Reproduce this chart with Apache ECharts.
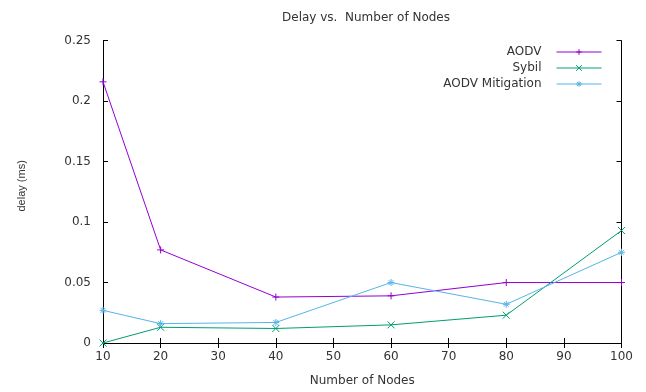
<!DOCTYPE html>
<html>
<head>
<meta charset="utf-8">
<script src="https://cdn.jsdelivr.net/npm/echarts@6/dist/echarts.min.js"></script>
<style>html,body{margin:0;padding:0;background:#fff;}#c{width:646px;height:392px;}</style>
</head>
<body>
<div id="c"></div>
<script>
const nodes = [10, 20, 40, 60, 80, 100];
const aodv = [0.216, 0.077, 0.038, 0.039, 0.05, 0.05];
const sybil = [0, 0.013, 0.012, 0.015, 0.023, 0.093];
const mitigation = [0.027, 0.016, 0.017, 0.05, 0.032, 0.075];
const seriesNames = ['AODV', 'Sybil', 'AODV Mitigation'];
const titleText = 'Delay vs.  Number of Nodes';
const xName = 'Number of Nodes';
const yName = 'delay (ms)';

const colors = ['#9400d3', '#009e73', '#56b4e9'];
const symbols = [
  'path://M5,0 L5,10 M0,5 L10,5',
  'path://M0,0 L10,10 M0,10 L10,0',
  'path://M5,0 L5,10 M0,5 L10,5 M1.5,1.5 L8.5,8.5 M1.5,8.5 L8.5,1.5'
];
const FONT = 'DejaVu Sans';
const txt = '#333';

function pairs(arr) { return nodes.map((n, i) => [n, arr[i]]); }
const allData = [aodv, sybil, mitigation];

const series = allData.map((d, i) => ({
  name: seriesNames[i],
  type: 'line',
  data: pairs(d),
  symbol: symbols[i],
  symbolSize: 7,
  clip: false,
  color: colors[i],
  lineStyle: { color: colors[i], width: 1 },
  itemStyle: { color: colors[i], borderColor: colors[i], borderWidth: 1 },
  emphasis: { disabled: true },
  z: 2 + i
}));

const legends = seriesNames.map((n, i) => ({
  data: [n],
  right: 44,
  top: 45 + i * 16,
  orient: 'vertical',
  align: 'right',
  itemWidth: 45,
  itemHeight: 7,
  padding: 0,
  selectedMode: false,
  lineStyle: { width: 1 },
  itemStyle: { borderWidth: 1 },
  textStyle: { fontFamily: FONT, fontSize: 12, color: txt, lineHeight: 14, padding: [0, 10, 0, 0] }
}));

const tickStyle = { inside: true, length: 5, lineStyle: { color: '#000', width: 1 } };
const lineStyleAx = { lineStyle: { color: '#000', width: 1 } };

const option = {
  animation: false,
  backgroundColor: '#fff',
  title: {
    text: titleText, left: 361, textAlign: 'center', top: 7,
    textStyle: { fontFamily: FONT, fontSize: 12, fontWeight: 'normal', color: txt }
  },
  legend: legends,
  grid: { left: 103, right: 24.5, top: 40.7, bottom: 47, containLabel: false },
  xAxis: [
    {
      type: 'value', min: 10, max: 100, interval: 10, position: 'bottom',
      name: xName, nameLocation: 'middle', nameGap: 32,
      nameTextStyle: { fontFamily: FONT, fontSize: 12, color: txt },
      axisLine: lineStyleAx, axisTick: tickStyle,
      axisLabel: { fontFamily: FONT, fontSize: 12, color: txt, margin: 8 },
      splitLine: { show: false }
    },
    {
      type: 'value', min: 10, max: 100, interval: 10, position: 'top',
      axisLine: lineStyleAx, axisTick: tickStyle,
      axisLabel: { show: false }, splitLine: { show: false }
    }
  ],
  yAxis: [
    {
      type: 'value', min: 0, max: 0.25, interval: 0.05, position: 'left',
      name: yName, nameLocation: 'middle', nameGap: 76, nameRotate: 90,
      nameTextStyle: { fontFamily: 'Liberation Sans', fontSize: 11, color: txt, padding: [0, 0, 0, 12] },
      axisLine: { show: true, lineStyle: { color: '#000', width: 1 } }, axisTick: tickStyle,
      axisLabel: { fontFamily: FONT, fontSize: 12, color: txt, margin: 12,
        formatter: v => String(+v.toFixed(2)) },
      splitLine: { show: false }
    },
    {
      type: 'value', min: 0, max: 0.25, interval: 0.05, position: 'right',
      axisLine: { show: true, lineStyle: { color: '#000', width: 1 } }, axisTick: tickStyle,
      axisLabel: { show: false }, splitLine: { show: false }
    }
  ],
  series: series
};

const chart = echarts.init(document.getElementById('c'), null, { renderer: 'canvas' });
chart.setOption(option);
</script>
</body>
</html>
